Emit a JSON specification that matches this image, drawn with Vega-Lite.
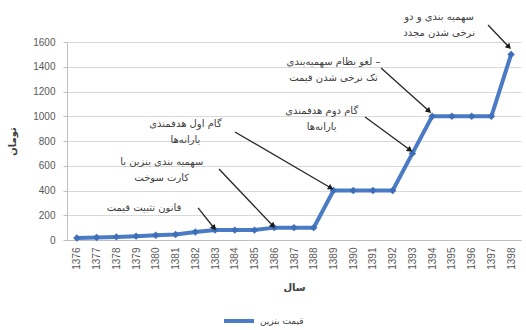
{
  "$schema": "https://vega.github.io/schema/vega-lite/v6.json",
  "autosize": {"type": "none"},
  "padding": {"left": 67, "top": 42, "right": 5, "bottom": 90},
  "width": 454,
  "height": 198,
  "background": "white",
  "config": {
    "view": {"stroke": null},
    "font": "DejaVu Sans",
    "axis": {"labelFont": "Liberation Sans", "labelColor": "#595959", "titleColor": "#404040", "titleFont": "DejaVu Sans", "labelOverlap": false},
    "axisX": {"labelAngle": 270, "labelFontSize": 10, "labelPadding": 7, "ticks": false, "grid": false, "domainColor": "#bfbfbf", "titleFontSize": 10, "titleFontWeight": "bold", "titlePadding": 13, "format": "d"},
    "axisY": {"labelFontSize": 10, "labelPadding": 8, "tickSize": 4, "tickColor": "#bfbfbf", "domainColor": "#bfbfbf", "gridColor": "#d9d9d9", "titleFontSize": 10, "titleFontWeight": "bold", "titleX": -50, "titleY": 99, "format": "d"}
  },
  "datasets": {
    "prices": [
      {"year": 1376, "price": 16},
      {"year": 1377, "price": 20},
      {"year": 1378, "price": 25},
      {"year": 1379, "price": 31},
      {"year": 1380, "price": 38},
      {"year": 1381, "price": 45},
      {"year": 1382, "price": 65},
      {"year": 1383, "price": 80},
      {"year": 1384, "price": 80},
      {"year": 1385, "price": 80},
      {"year": 1386, "price": 100},
      {"year": 1387, "price": 100},
      {"year": 1388, "price": 100},
      {"year": 1389, "price": 400},
      {"year": 1390, "price": 400},
      {"year": 1391, "price": 400},
      {"year": 1392, "price": 400},
      {"year": 1393, "price": 700},
      {"year": 1394, "price": 1000},
      {"year": 1395, "price": 1000},
      {"year": 1396, "price": 1000},
      {"year": 1397, "price": 1000},
      {"year": 1398, "price": 1500}
    ],
    "arrows": [
      {"x1": 1396.83, "y1": 1737, "x2": 1397.89, "y2": 1560},
      {"x1": 1391.41, "y1": 1390, "x2": 1393.84, "y2": 1042},
      {"x1": 1390.6, "y1": 994, "x2": 1392.88, "y2": 727},
      {"x1": 1384.01, "y1": 873, "x2": 1388.87, "y2": 420},
      {"x1": 1383.2, "y1": 574, "x2": 1385.94, "y2": 113},
      {"x1": 1382.14, "y1": 259, "x2": 1382.95, "y2": 97}
    ],
    "texts": [
      {"label": "سهمیه بندی و دو", "tx": 1394.35, "ty": 1802},
      {"label": "نرخی شدن مجدد", "tx": 1394.35, "ty": 1673},
      {"label": "لغو نظام سهمیه‌بندی –", "tx": 1389.0, "ty": 1438},
      {"label": "تک نرخی شدن قیمت", "tx": 1389.0, "ty": 1309},
      {"label": "گام دوم هدفمندی", "tx": 1388.4, "ty": 1042},
      {"label": "یارانه‌ها", "tx": 1388.4, "ty": 913},
      {"label": "گام اول هدفمندی", "tx": 1381.5, "ty": 937},
      {"label": "یارانه‌ها", "tx": 1381.5, "ty": 808},
      {"label": "سهمیه بندی بنزین با", "tx": 1380.3, "ty": 630},
      {"label": "کارت سوخت", "tx": 1380.3, "ty": 501},
      {"label": "قانون تثبیت قیمت", "tx": 1379.4, "ty": 259}
    ]
  },
  "layer": [
    {
      "data": {"name": "prices"},
      "mark": {"type": "line", "strokeWidth": 4},
      "encoding": {
        "x": {
          "field": "year", "type": "quantitative",
          "scale": {"domain": [1375.5, 1398.5], "nice": false, "zero": false},
          "axis": {"values": [1376,1377,1378,1379,1380,1381,1382,1383,1384,1385,1386,1387,1388,1389,1390,1391,1392,1393,1394,1395,1396,1397,1398], "title": "سال"}
        },
        "y": {
          "field": "price", "type": "quantitative",
          "scale": {"domain": [0, 1600], "nice": false},
          "axis": {"values": [0,200,400,600,800,1000,1200,1400,1600], "title": "تومان"}
        },
        "color": {
          "datum": "قیمت بنزین",
          "scale": {"range": ["#4a7bc4"]},
          "legend": {
            "title": null, "orient": "none", "legendX": 155, "legendY": 262,
            "symbolType": "stroke", "symbolStrokeWidth": 4, "symbolSize": 900,
            "labelFontSize": 9, "labelColor": "#404040", "labelFont": "DejaVu Sans"
          }
        }
      }
    },
    {
      "data": {"name": "prices"},
      "mark": {"type": "point", "shape": "diamond", "filled": true, "size": 55, "color": "#3f6fb8", "opacity": 1},
      "encoding": {
        "x": {"field": "year", "type": "quantitative", "axis": {"values": [1376,1377,1378,1379,1380,1381,1382,1383,1384,1385,1386,1387,1388,1389,1390,1391,1392,1393,1394,1395,1396,1397,1398], "title": "سال"}},
        "y": {"field": "price", "type": "quantitative", "axis": {"values": [0,200,400,600,800,1000,1200,1400,1600], "title": "تومان"}}
      }
    },
    {
      "data": {"name": "arrows"},
      "mark": {"type": "rule", "color": "#262626", "strokeWidth": 1.3},
      "encoding": {
        "x": {"field": "x1", "type": "quantitative", "axis": {"values": [1376,1377,1378,1379,1380,1381,1382,1383,1384,1385,1386,1387,1388,1389,1390,1391,1392,1393,1394,1395,1396,1397,1398], "title": "سال"}},
        "y": {"field": "y1", "type": "quantitative", "axis": {"values": [0,200,400,600,800,1000,1200,1400,1600], "title": "تومان"}},
        "x2": {"field": "x2"},
        "y2": {"field": "y2"}
      }
    },
    {
      "data": {"name": "arrows"},
      "transform": [
        {"calculate": "atan2((datum.x2 - datum.x1) * 19.739, (datum.y2 - datum.y1) * 0.12375) * 180 / PI", "as": "ang"}
      ],
      "mark": {"type": "point", "shape": "triangle-up", "filled": true, "size": 40, "color": "#1a1a1a", "opacity": 1},
      "encoding": {
        "x": {"field": "x2", "type": "quantitative", "axis": {"values": [1376,1377,1378,1379,1380,1381,1382,1383,1384,1385,1386,1387,1388,1389,1390,1391,1392,1393,1394,1395,1396,1397,1398], "title": "سال"}},
        "y": {"field": "y2", "type": "quantitative", "axis": {"values": [0,200,400,600,800,1000,1200,1400,1600], "title": "تومان"}},
        "angle": {"field": "ang", "type": "quantitative", "scale": null}
      }
    },
    {
      "data": {"name": "texts"},
      "mark": {"type": "text", "fontSize": 10, "align": "center", "baseline": "middle", "color": "#404040"},
      "encoding": {
        "x": {"field": "tx", "type": "quantitative", "axis": {"values": [1376,1377,1378,1379,1380,1381,1382,1383,1384,1385,1386,1387,1388,1389,1390,1391,1392,1393,1394,1395,1396,1397,1398], "title": "سال"}},
        "y": {"field": "ty", "type": "quantitative", "axis": {"values": [0,200,400,600,800,1000,1200,1400,1600], "title": "تومان"}},
        "text": {"field": "label", "type": "nominal"}
      }
    }
  ]
}
